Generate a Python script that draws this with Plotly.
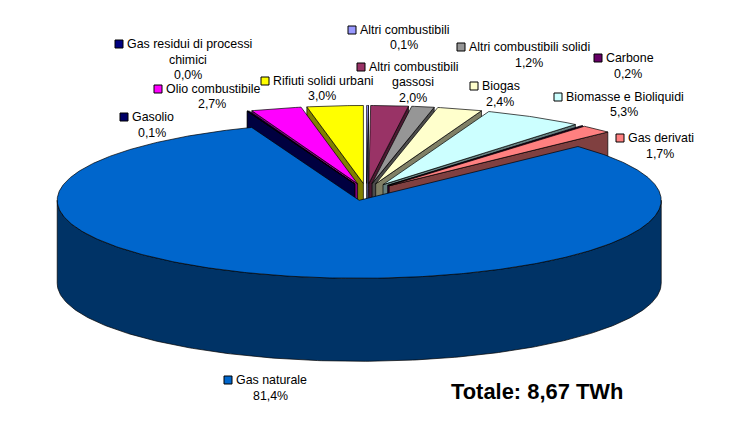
import numpy as np
import plotly.graph_objects as go

# ---- data (clockwise from 12 o'clock) ----
categories = ["Altri combustibili", "Altri combustibili gassosi", "Altri combustibili solidi",
              "Biogas", "Biomasse e Bioliquidi", "Carbone", "Gas derivati", "Gas naturale",
              "Gas residui di processi chimici", "Gasolio", "Olio combustibile", "Rifiuti solidi urbani"]
values = [0.1, 2.0, 1.2, 2.4, 5.3, 0.2, 1.7, 81.4, 0.0, 0.1, 2.7, 3.0]
value_labels = ["0,1%", "2,0%", "1,2%", "2,4%", "5,3%", "0,2%", "1,7%", "81,4%", "0,0%", "0,1%", "2,7%", "3,0%"]
total_label = "Totale: 8,67 TWh"

# ---- styles ----
top_colors = ["#9999FF", "#993366", "#969696", "#FFFFCC", "#CCFFFF", "#660066", "#FF8080", "#0066CC",
              "#000080", "#000066", "#FF00FF", "#FFFF00"]
wall_colors = ["#4D4D80", "#4D1A33", "#4B4B4B", "#808066", "#668080", "#330033", "#804040", "#003366",
               "#000040", "#000033", "#800080", "#808000"]
CX, CY, RX, RY, DEPTH, EXPLODE = 366.5, 192.0, 302.0, 78.0, 83.0, 33.0
# label layout: key x,y ; first-line text x ; lines after first (centre x, y)
label_layout = {
    0: (352, 30, 357.5, [(403.5, 45)]),
    1: (361, 67, 366.5, [(413, 82), (413, 98)]),
    2: (461, 47, 466.5, [(529, 63)]),
    3: (474, 86, 479.5, [(500, 102)]),
    4: (558, 97, 563.5, [(624, 112)]),
    5: (598, 58, 603.5, [(628, 74)]),
    6: (620, 138, 625.5, [(660, 154)]),
    7: (228, 380, 233.5, [(270, 396)]),
    8: (119, 44, 124.5, [(188, 60), (188, 75)]),
    9: (124, 117, 129.5, [(152, 133)]),
    10: (158, 89, 163.5, [(212, 104)]),
    11: (265, 81, 270.5, [(322, 96)]),
}
split_first = {1: ["Altri combustibili", "gassosi"], 8: ["Gas residui di processi", "chimici"]}
FONT = "Liberation Sans, Arial, sans-serif"

# ---- geometry derived from values ----
frac = np.array(values) / sum(values)
edges = np.concatenate([[0], np.cumsum(frac)]) * 2 * np.pi
fig = go.Figure()


def poly(xs, ys, color):
    fig.add_trace(go.Scatter(x=xs, y=ys, mode="lines", fill="toself", fillcolor=color,
                             line=dict(color="black", width=0.7), hoverinfo="skip", showlegend=False))


def slice_center(i):
    mid = (edges[i] + edges[i + 1]) / 2
    return CX + EXPLODE * np.sin(mid), CY - EXPLODE * RY / RX * np.cos(mid)


def draw_slice(i):
    a0, a1 = edges[i], edges[i + 1]
    cx, cy = slice_center(i)
    px = lambda t: cx + RX * np.sin(t)
    py = lambda t: cy - RY * np.cos(t)
    wall = wall_colors[i]
    # radial walls facing the viewer
    for a, vis in ((a0, np.sin(a0) < 0), (a1, np.sin(a1) > 0)):
        if vis:
            poly([cx, px(a), px(a), cx, cx], [cy, py(a), py(a) + DEPTH, cy + DEPTH, cy], wall)
    # outer wall
    lo, hi = max(a0, np.pi / 2), min(a1, 3 * np.pi / 2)
    if hi > lo:
        t = np.linspace(lo, hi, 240)
        poly(np.r_[px(t), px(t[::-1]), px(t[0])],
             np.r_[py(t) + DEPTH, py(t[::-1]), py(t[0]) + DEPTH], wall)
    # top face
    t = np.linspace(a0, a1, max(3, int((a1 - a0) * 120)))
    poly(np.r_[cx, px(t), cx], np.r_[cy, py(t), cy], top_colors[i])


# painter's order: outward from the back, big slice last
for i in [11, 10, 9, 8, 0, 1, 2, 3, 4, 5, 6, 7]:
    draw_slice(i)

# legend keys
fig.add_trace(go.Scatter(x=[label_layout[i][0] for i in range(len(categories))],
                         y=[label_layout[i][1] for i in range(len(categories))],
                         mode="markers", hoverinfo="skip", showlegend=False,
                         marker=dict(symbol="square", size=8, color=top_colors,
                                     line=dict(color="black", width=1))))

annotations = []


def text(x, y, s, anchor, size=12.4, bold=False):
    annotations.append(dict(x=x, y=y, xref="x", yref="y", text=f"<b>{s}</b>" if bold else s, showarrow=False,
                            xanchor=anchor, yanchor="middle", font=dict(family=FONT, size=size, color="black")))


for i, name in enumerate(categories):
    kx, ky, tx, rest = label_layout[i]
    parts = split_first.get(i, [name])
    text(tx, ky, parts[0], "left")
    lines = parts[1:] + [value_labels[i]]
    for s, (x, y) in zip(lines, rest):
        text(x, y, s, "center")
text(449, 391, total_label, "left", size=21.9, bold=True)

fig.update_layout(width=738, height=428, autosize=False, margin=dict(l=0, r=0, t=0, b=0),
                  paper_bgcolor="white", plot_bgcolor="white", annotations=annotations,
                  xaxis=dict(range=[0, 738], visible=False, fixedrange=True),
                  yaxis=dict(range=[428, 0], visible=False, fixedrange=True))
fig.write_html("out.html", config={"displayModeBar": False},
               post_script="document.body.style.margin='0';document.body.style.overflow='hidden';")
